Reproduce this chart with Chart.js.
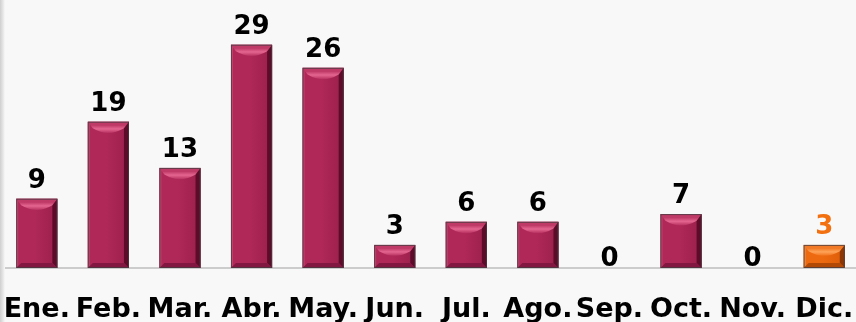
<!DOCTYPE html>
<html>
<head>
<meta charset="utf-8">
<script src="https://cdn.jsdelivr.net/npm/chart.js@4"></script>
<style>
  html, body { margin: 0; padding: 0; background: #f8f8f8; overflow: hidden; }
  #wrap { position: relative; width: 860px; height: 322px; }
  #edge { position: absolute; left: 0; top: 0; width: 5px; height: 322px;
          background: linear-gradient(to right, #cfcfcf, #e6e6e6 60%, #f8f8f8); }
</style>
</head>
<body>
<div id="wrap">
  <canvas id="chart"></canvas>
  <div id="edge"></div>
</div>
<script>
const months = ['Ene.', 'Feb.', 'Mar.', 'Abr.', 'May.', 'Jun.', 'Jul.', 'Ago.', 'Sep.', 'Oct.', 'Nov.', 'Dic.'];
const counts = [9, 19, 13, 29, 26, 3, 6, 6, 0, 7, 0, 3];
const highlightIndex = 11; // current month drawn in orange

// bevel palettes: face, top cap, left side, right side, bottom, label
const maroon = { face: '#b02858', faceDark: '#9a1f4b', capTop: '#c03a68', capLight: '#e46690', left: '#c2416d', right: '#5c0b29', bottom: '#821741', label: '#000000' };
const orange = { face: '#ee6a10', faceDark: '#dc5c08', capTop: '#f27a26', capLight: '#ffa458', left: '#f6883a', right: '#8c3703', bottom: '#b24a06', label: '#f2700f' };

function paletteFor(i) { return i === highlightIndex ? orange : maroon; }

// draws each bar as a bevelled block and the value above it
const bevelBars = {
  id: 'bevelBars',
  afterDatasetsDraw(chart) {
    const ctx = chart.ctx;
    const meta = chart.getDatasetMeta(0);
    meta.data.forEach((bar, i) => {
      const p = bar.getProps(['x', 'y', 'base', 'width'], true);
      const pal = paletteFor(i);
      const l = p.x - p.width / 2, r = p.x + p.width / 2;
      const t = Math.min(p.y, p.base), b = Math.max(p.y, p.base);
      const h = b - t;
      if (h >= 1) {
        const s = Math.min(5, h / 3);
        const cap = Math.min(12, h / 2);
        ctx.save();
        // face
        const g = ctx.createLinearGradient(l, 0, r, 0);
        g.addColorStop(0, pal.face);
        g.addColorStop(0.45, pal.face);
        g.addColorStop(1, pal.faceDark);
        ctx.fillStyle = g;
        ctx.fillRect(l, t, p.width, h);
        // left side
        ctx.fillStyle = pal.left;
        ctx.beginPath();
        ctx.moveTo(l, t); ctx.lineTo(l + 2, t + 2); ctx.lineTo(l + 2, b - 2); ctx.lineTo(l, b);
        ctx.closePath(); ctx.fill();
        // right side
        ctx.fillStyle = pal.right;
        ctx.beginPath();
        ctx.moveTo(r, t); ctx.lineTo(r - s, t + s); ctx.lineTo(r - s, b - s); ctx.lineTo(r, b);
        ctx.closePath(); ctx.fill();
        // bottom
        ctx.fillStyle = pal.bottom;
        ctx.beginPath();
        ctx.moveTo(l, b); ctx.lineTo(l + s, b - s); ctx.lineTo(r - s, b - s); ctx.lineTo(r, b);
        ctx.closePath(); ctx.fill();
        // top cap
        const cg = ctx.createLinearGradient(0, t, 0, t + cap);
        cg.addColorStop(0, pal.capTop);
        cg.addColorStop(0.3, pal.capTop);
        cg.addColorStop(0.6, pal.capLight);
        cg.addColorStop(1, pal.face);
        ctx.fillStyle = cg;
        ctx.beginPath();
        ctx.moveTo(l, t); ctx.lineTo(r, t); ctx.lineTo(r - s, t + cap * 0.55);
        ctx.quadraticCurveTo(p.x, t + cap * 1.35, l + s, t + cap * 0.55);
        ctx.closePath(); ctx.fill();
        // outline
        ctx.strokeStyle = 'rgba(70,60,65,0.8)';
        ctx.lineWidth = 1;
        ctx.strokeRect(l + 0.5, t + 0.5, p.width - 1, h - 1);
        ctx.restore();
      }
      // value label
      ctx.save();
      ctx.font = 'bold 26px "DejaVu Sans"';
      ctx.fillStyle = pal.label;
      ctx.textAlign = 'center';
      ctx.textBaseline = 'alphabetic';
      ctx.fillText(String(counts[i]), p.x, t - (h >= 1 ? 11 : 2));
      ctx.restore();
    });
  }
};

new Chart(document.getElementById('chart'), {
  type: 'bar',
  data: {
    labels: months,
    datasets: [{
      data: counts,
      backgroundColor: 'rgba(0,0,0,0)',
      borderWidth: 0,
      categoryPercentage: 1,
      barPercentage: 0.575
    }]
  },
  options: {
    responsive: true,
    maintainAspectRatio: false,
    animation: false,
    layout: { padding: { left: 1, right: 0, top: 37, bottom: 0 } },
    plugins: { legend: { display: false }, tooltip: { enabled: false } },
    scales: {
      x: {
        grid: { display: false, drawTicks: false },
        border: { display: true, color: '#cccccc', width: 2 },
        ticks: {
          color: '#000000',
          font: { family: 'DejaVu Sans', size: 27, weight: 'bold' },
          padding: 26,
          autoSkip: false,
          maxRotation: 0,
          minRotation: 0
        },
        afterFit(scale) {
          scale.height = 54;
          scale.paddingLeft = 0;
          scale.paddingRight = 0;
        }
      },
      y: {
        display: false,
        min: 0,
        max: 30
      }
    }
  },
  plugins: [bevelBars]
});
</script>
</body>
</html>
